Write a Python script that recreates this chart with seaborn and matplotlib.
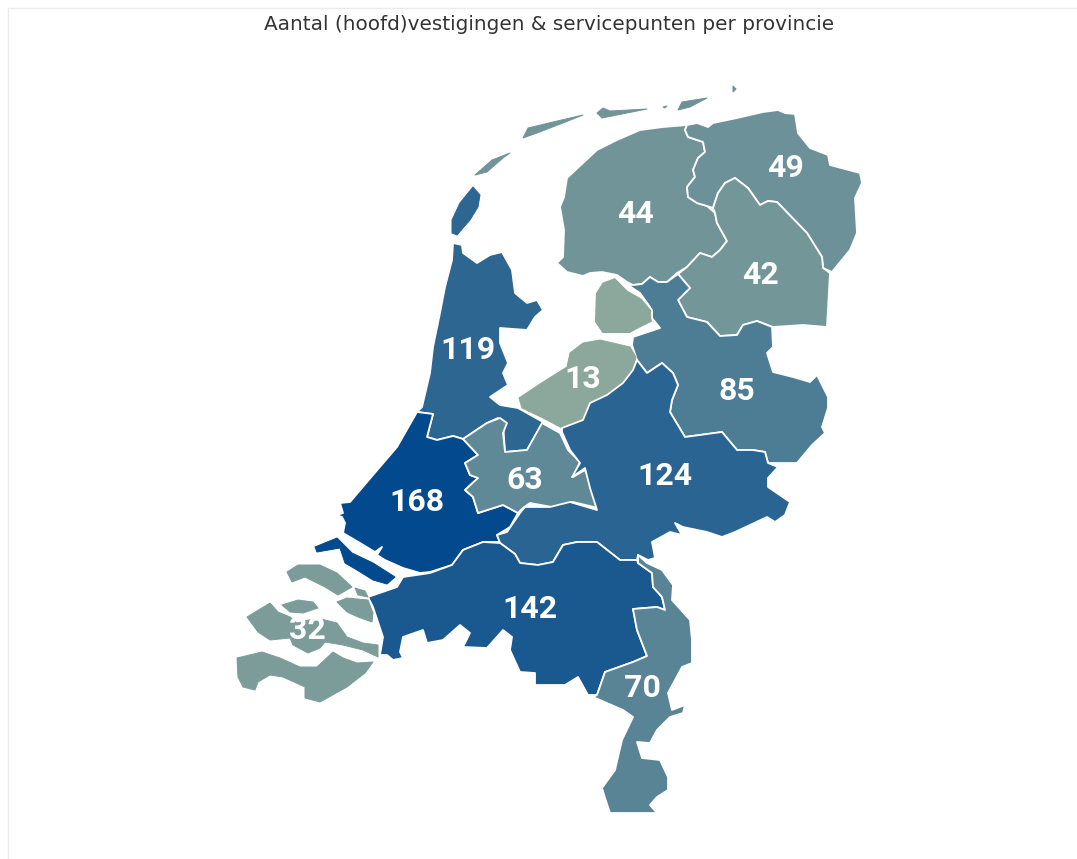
import matplotlib
matplotlib.use('Agg')
import matplotlib.pyplot as plt
import seaborn as sns

TITLE = 'Aantal (hoofd)vestigingen & servicepunten per provincie'

provinces = ['Friesland', 'Groningen', 'Drenthe', 'Overijssel', 'Flevoland', 'Noord-Holland',
             'Zuid-Holland', 'Utrecht', 'Gelderland', 'Noord-Brabant', 'Limburg', 'Zeeland']
counts = [44, 49, 42, 85, 13, 119, 168, 63, 124, 142, 70, 32]

# where the number sits on each province, in image pixels
label_x = [636, 786, 761, 737, 583, 468, 417, 525, 665, 530, 642, 307]
label_y = [211, 165, 272, 388, 376, 347, 499, 477, 473, 606, 685, 627]

# outlines, in image pixels
friesland = [
  [(687,125),(685,130),(688,137),(703,142),(705,152),(698,158),(693,170),(695,177),(687,187),(688,197),
   (697,203),(707,206),(715,213),(717,223),(727,241),(720,250),(712,257),(700,253),(687,267),(677,273),
   (667,282),(658,282),(650,277),(642,284),(633,285),(627,282),(617,275),(602,272),(590,273),(583,276),
   (567,272),(557,263),(563,257),(564,230),(560,207),(564,197),(567,178),(583,163),(597,150),(617,140),
   (640,130),(663,127)],
  [(475,175),(492,160),(510,153),(503,158),(487,172)],
  [(523,138),(528,128),(553,122),(583,115),(563,123),(537,133)],
  [(597,113),(603,108),(610,111),(647,109),(617,115),(602,118)],
  [(663,107),(667,106),(665,108)],
]
groningen = [
  [(687,125),(697,123),(708,127),(713,123),(737,118),(763,112),(778,110),(785,113),(795,114),(798,133),
   (810,148),(828,155),(830,165),(860,173),(862,183),(855,198),(857,233),(850,250),(832,272),(823,268),
   (822,257),(807,233),(777,202),(768,201),(760,205),(748,188),(735,178),(725,183),(718,193),(713,208),
   (707,206),(697,203),(688,197),(687,187),(695,177),(693,170),(698,158),(705,152),(703,142),(688,137),(685,130)],
  [(678,110),(682,102),(707,98),(690,107)],
  [(733,86),(736,89),(733,92)],
]
drenthe = [
  [(713,208),(718,193),(725,183),(735,178),(748,188),(760,205),(768,201),(777,202),(807,233),(822,257),
   (823,268),(830,273),(827,327),(803,325),(773,327),(757,321),(743,325),(737,335),(720,336),(707,322),
   (687,317),(678,300),(690,288),(678,274),(687,267),(700,253),(712,257),(720,250),(727,241),(717,223),(715,213)],
]
overijssel = [
  [(667,282),(678,274),(690,288),(678,300),(687,317),(707,322),(720,336),(737,335),(743,325),(757,321),
   (772,327),(773,347),(767,353),(773,372),(793,377),(810,382),(817,375),(828,397),(828,408),(822,427),
   (825,433),(812,445),(797,463),(768,463),(765,452),(753,450),(737,450),(722,432),(685,437),(670,412),
   (672,400),(678,385),(673,373),(662,363),(647,373),(637,360),(632,345),(633,337),(660,328),(652,318),
   (650,307),(640,293),(628,285),(633,285),(642,284),(650,277),(658,282)],
]
flevoland = [
  [(595,293),(602,282),(615,277),(628,290),(642,298),(652,310),(652,318),(653,322),(637,330),(630,334),
   (602,334),(594,322)],
  [(600,340),(630,347),(636,357),(633,370),(623,383),(607,395),(590,403),(583,420),(562,428),(543,418),
   (522,408),(519,398),(543,382),(567,367),(570,353),(583,343)],
]
noord_holland = [
  [(453,243),(462,245),(463,253),(477,263),(490,255),(502,252),(512,270),(515,293),(527,303),(537,300),
   (543,310),(535,317),(527,330),(500,328),(500,343),(508,363),(503,373),(508,385),(490,397),(500,405),
   (518,408),(543,422),(527,450),(505,452),(503,423),(498,418),(487,423),(463,439),(453,436),(437,440),
   (427,437),(433,414),(417,412),(422,407),(430,373),(433,347),(440,313),(445,287),(452,260)],
  [(473,187),(480,195),(478,207),(470,220),(457,235),(452,233),(452,220),(460,203)],
]
zuid_holland = [
  [(417,412),(433,414),(427,437),(437,440),(453,436),(463,439),(478,455),(465,463),(470,475),(478,478),
   (465,490),(473,497),(478,513),(503,505),(518,513),(510,527),(497,535),(500,542),(483,542),(463,550),
   (452,565),(430,572),(420,573),(403,568),(385,560),(377,555),(382,547),(375,552),(360,543),(343,533),
   (345,523),(342,517),(337,515),(343,513),(340,503),(350,502),(373,475),(397,447)],
  [(315,547),(337,538),(352,553),(373,563),(395,577),(387,584),(373,580),(357,570),(345,563),(340,548),(317,552)],
]
utrecht = [
  [(463,439),(487,423),(500,418),(507,423),(503,433),(505,452),(527,450),(542,423),(560,433),(568,450),
   (580,462),(573,477),(585,470),(592,488),(598,508),(573,502),(552,507),(530,503),(523,508),(518,513),
   (503,505),(478,513),(473,497),(465,490),(478,478),(470,475),(465,463),(478,455)],
]
gelderland = [
  [(562,432),(562,428),(583,420),(590,403),(607,395),(623,383),(633,370),(637,360),(647,373),(662,363),
   (673,373),(678,385),(672,400),(670,412),(685,437),(722,432),(737,450),(753,450),(765,452),(768,463),
   (778,467),(768,478),(768,487),(790,502),(785,515),(775,522),(767,517),(735,532),(722,537),(707,532),
   (683,527),(675,523),(682,535),(670,532),(652,542),(655,558),(648,560),(638,555),(637,560),(620,560),
   (597,542),(577,542),(563,545),(553,562),(538,565),(520,563),(515,554),(500,543),(497,535),(507,532),
   (520,513),(525,507),(550,507),(570,502),(597,510),(590,488),(585,468),(572,477),(580,463),(570,450)],
]
noord_brabant = [
  [(368,597),(397,587),(403,577),(430,573),(452,565),(463,550),(483,542),(500,543),(515,554),(520,563),
   (538,565),(553,562),(563,545),(577,542),(597,542),(620,560),(637,560),(638,563),(652,573),(653,587),
   (662,597),(665,610),(657,607),(633,609),(637,630),(647,656),(633,662),(605,672),(597,695),(588,695),
   (578,677),(565,685),(535,685),(535,673),(520,672),(510,650),(512,637),(503,630),(487,648),(463,647),
   (470,633),(460,625),(443,640),(427,643),(423,630),(403,637),(400,652),(403,658),(393,660),(387,655),
   (380,655),(383,637),(373,607)],
]
limburg = [
  [(638,555),(647,563),(662,570),(673,585),(672,600),(690,620),(692,640),(692,663),(682,667),(668,693),
   (672,710),(685,705),(683,713),(670,717),(657,730),(650,743),(637,742),(642,758),(660,760),(668,777),
   (668,790),(657,797),(650,805),(657,813),(610,813),(605,798),(602,788),(615,770),(622,740),(633,717),
   (623,710),(593,697),(597,695),(605,672),(633,662),(647,656),(637,630),(633,609),(657,607),(665,610),
   (662,597),(653,587),(652,573),(638,563)],
]
zeeland = [
  [(287,572),(298,565),(320,565),(337,573),(352,587),(338,595),(325,587),(305,577),(292,582)],
  [(355,588),(365,591),(368,597),(358,595)],
  [(337,602),(347,598),(368,600),(373,613),(372,622),(358,617),(347,612)],
  [(282,605),(298,600),(313,602),(318,608),(303,613),(290,612)],
  [(247,617),(270,603),(278,612),(290,617),(297,623),(317,618),(337,623),(347,637),(363,643),(378,645),
   (378,657),(363,650),(343,645),(325,642),(320,648),(308,653),(293,645),(290,638),(270,640),(258,632)],
  [(237,658),(262,652),(280,658),(300,667),(317,667),(333,652),(343,658),(357,663),(373,662),(365,673),
   (347,687),(320,702),(305,698),(305,687),(283,677),(270,675),(258,682),(255,690),(243,687),(238,677)],
]
outlines = [friesland, groningen, drenthe, overijssel, flevoland, noord_holland,
            zuid_holland, utrecht, gelderland, noord_brabant, limburg, zeeland]

sns.set_theme(style='white')
plt.rcParams['font.family'] = ['Roboto', 'DejaVu Sans']

ramp = sns.blend_palette(['#8ca79b', '#03498e'], as_cmap=True)
norm = plt.Normalize(min(counts), max(counts))

fig = plt.figure(figsize=(10.77, 8.59), dpi=100)
ax = fig.add_axes([0, 0, 1, 1])
ax.set_xlim(0, 1077)
ax.set_ylim(859, 0)
ax.axis('off')

# faint frame of the dashboard tile
ax.plot([8, 8], [859, 8], color='#ececec', lw=1)
ax.plot([8, 1077], [8, 8], color='#ececec', lw=1)

for shapes, count in zip(outlines, counts):
  colour = ramp(norm(count))
  for i, shape in enumerate(shapes):
    xs, ys = zip(*shape)
    # islands are thin, a white stroke would eat them
    island = i > 0 or count == 32
    ax.fill(xs, ys, facecolor=colour, edgecolor=colour if island else 'white',
            lw=0.7 if island else 1.3, joinstyle='round')

for x, y, count in zip(label_x, label_y, counts):
  ax.text(x, y, str(count), color='white', fontsize=23, fontweight='bold', ha='center', va='center_baseline')

ax.text(549, 24, TITLE, color='#333333', fontsize=14.45, family=['DejaVu Sans'], ha='center', va='center')

fig.savefig('out.png', dpi=100)
